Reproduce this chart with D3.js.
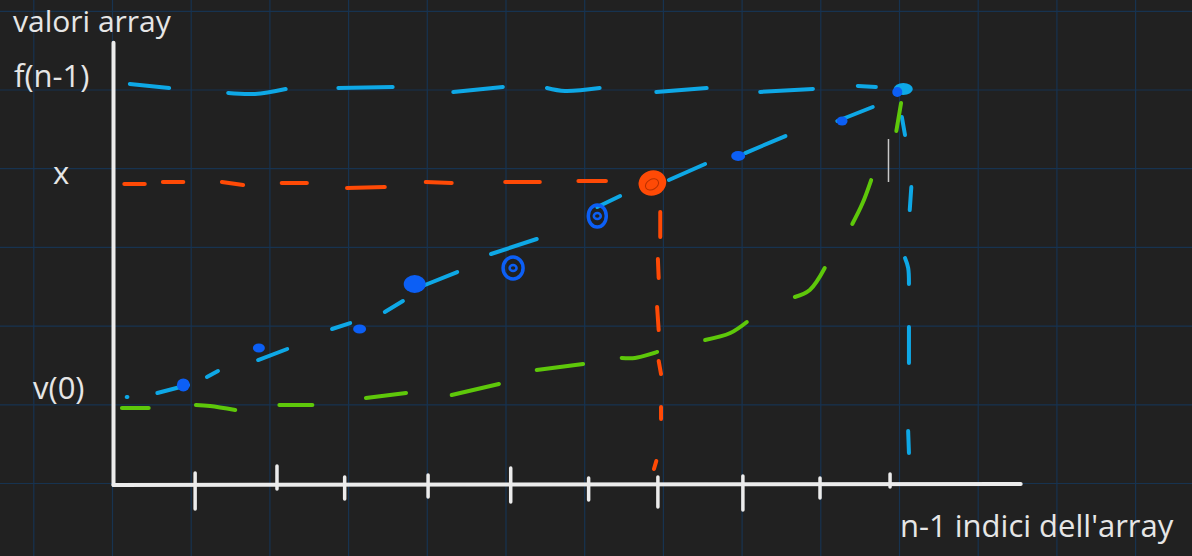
<!DOCTYPE html>
<html><head><meta charset="utf-8">
<script src="https://cdn.jsdelivr.net/npm/d3@7"></script>
<style>html,body{margin:0;background:#212121;}svg{display:block}</style>
</head><body>
<svg id="c" width="1192" height="556"></svg>
<script>
// ---------- DATA (index units on x, value units on y) ----------
const gridXIdx = d3.range(-1, 14);              // grid columns (array indices)
const gridYVal = [0, 10, 20, 30, 40, 50, 60];   // grid rows (values)
const tickIdx = [1.05, 2.09, 2.95, 4.01, 5.06, 6.05, 6.93, 8.01, 8.99, 9.88];
const yLabels = ["f(n-1)", "x", "v(0)"];
const yLabelVals = [50, 38.18, 10];
const yTitle = "valori array";
const xTitle = "n-1 indici dell'array";

// array elements (sorted values)
const arrayIdx = [0.90, 1.86, 3.14, 3.84, 5.09, 6.16, 7.95, 9.27, 10.01];
const arrayVal = [12.52, 17.22, 19.63, 25.35, 27.38, 33.99, 41.61, 46.06, 50.0];
// searched value x, found at interpolated index
const searchIdx = [6.86];
const searchVal = [38.18];

// dashed guide: f(n-1) level (horizontal)
const topLevelDashes = [
  [[0.22,50.76],[0.72,50.25]],
  [[1.47,49.62],[1.81,49.50],[2.20,50.13]],
  [[2.87,50.25],[3.56,50.38]],
  [[4.33,49.75],[4.96,50.38]],
  [[5.52,50.25],[5.75,49.87],[6.19,50.25]],
  [[6.91,49.75],[7.55,50.25]],
  [[8.23,49.75],[8.90,50.13]],
  [[9.47,50.51],[9.70,50.38]]
];
// dashed guide: n-1 index (vertical)
const lastIdxDashes = [
  [[10.03,46.57],[10.07,44.28]],
  [[10.15,37.67],[10.13,34.75]],
  [[10.07,28.65],[10.11,27.40],[10.12,25.35]],
  [[10.12,19.89],[10.12,15.31]],
  [[10.11,6.67],[10.12,3.88]]
];
// dashed guide: x level (horizontal)
const searchLevelDashes = [
  [[0.15,38.06],[0.41,38.06]],
  [[0.64,38.31],[0.90,38.31]],
  [[1.39,38.31],[1.66,37.93]],
  [[2.15,38.18],[2.47,38.18]],
  [[2.98,37.55],[3.46,37.67]],
  [[3.98,38.31],[4.31,38.18]],
  [[4.99,38.31],[5.43,38.31]],
  [[5.92,38.44],[6.27,38.44]]
];
// dashed guide: interpolated index (vertical)
const searchIdxDashes = [
  [[6.96,34.50],[6.96,31.32]],
  [[6.93,28.53],[6.94,26.11]],
  [[6.92,22.43],[6.94,19.50]],
  [[6.94,15.57],[6.97,13.91]],
  [[6.97,9.72],[6.97,8.20]],
  [[6.91,2.86],[6.88,1.84]]
];
// linear interpolation v(0) -> f(n-1)
const linearDashes = [
  [[0.18,10.99],[0.19,11.0]],
  [[0.57,11.50],[0.96,12.52]],
  [[1.20,13.53],[1.34,14.29]],
  [[1.85,15.69],[2.22,17.09]],
  [[2.79,19.63],[3.02,20.39]],
  [[3.46,21.79],[3.69,23.19]],
  [[3.97,25.22],[4.38,26.87]],
  [[4.81,29.16],[5.39,31.07]],
  [[6.16,35.13],[6.45,36.53]],
  [[7.07,38.56],[7.53,40.60]],
  [[8.04,41.99],[8.55,44.15]],
  [[9.21,46.06],[9.66,47.84]]
];
// non-linear (exponential-like) distribution
const curveDashes = [
  [[0.12,9.59],[0.46,9.59]],
  [[1.06,9.97],[1.24,9.85],[1.56,9.34]],
  [[2.12,9.97],[2.54,9.97]],
  [[3.22,10.86],[3.73,11.50]],
  [[4.31,11.25],[4.91,12.64]],
  [[5.39,14.42],[5.98,15.18]],
  [[6.47,15.95],[6.64,15.95],[6.92,16.71]],
  [[7.53,18.23],[7.85,19.12],[8.06,20.52]],
  [[8.67,23.70],[8.86,24.59],[9.05,27.38]],
  [[9.40,32.97],[9.53,35.60],[9.64,38.56]],
  [[9.96,44.79],[10.02,48.35]]
];
const cursorMark = [[9.86,43.77],[9.86,38.31]];

// ---------- STYLE ----------
const C = {bg:"#212121", grid:"#173350", axis:"#ececec", text:"#e6e6e6",
           lblue:"#0ea8e6", dblue:"#0c5ff5", orange:"#ff4a06", green:"#5ec80a"};
const dotR = [[6.5,6.5],[6,4.5],[6.5,4.5],[11,9],[10,11],[9,11],[7,5],[5.5,4.5],[5,5]];
const dotRing = [false,false,false,false,true,true,false,false,false];
const tickExt = [[12,24],[19,4],[8,14],[10,12],[17,17],[7,15],[8,22],[9,25],[7,13],[11,2]];
const yLabelPos = [[14,-3],[53,1],[33,-6]];

// ---------- SCALES ----------
const svg = d3.select("#c");
const W = 1192, H = 556;
const x = d3.scaleLinear().domain([0, 10]).range([112.5, 899.5]);
const y = d3.scaleLinear().domain([0, 50]).range([483.5, 90]);

svg.append("rect").attr("width", W).attr("height", H).attr("fill", C.bg);

// grid
const g = svg.append("g").attr("stroke", C.grid).attr("stroke-width", 1.2);
g.selectAll("line.vx").data(gridXIdx).join("line")
  .attr("x1", d => x(d)).attr("x2", d => x(d)).attr("y1", 0).attr("y2", H);
g.selectAll("line.hy").data(gridYVal).join("line")
  .attr("y1", d => y(d)).attr("y2", d => y(d)).attr("x1", 0).attr("x2", W);

// axes
const ax = svg.append("g").attr("stroke", C.axis).attr("stroke-linecap", "round").attr("fill", "none");
const axisY0 = y(0) + 1.5;
ax.append("line").attr("x1", x(0) + 1).attr("x2", x(0) + 1).attr("y1", y(56)).attr("y2", axisY0)
  .attr("stroke-width", 4);
ax.append("line").attr("x1", x(0) + 1).attr("x2", x(11.54)).attr("y1", axisY0).attr("y2", axisY0 - 1)
  .attr("stroke-width", 4);
ax.selectAll("line.tick").data(tickIdx).join("line")
  .attr("x1", d => x(d)).attr("x2", d => x(d))
  .attr("y1", (d, i) => axisY0 - tickExt[i][0]).attr("y2", (d, i) => axisY0 + tickExt[i][1])
  .attr("stroke-width", 3.5);

// dashed lines
const line = d3.line().x(d => x(d[0])).y(d => y(d[1])).curve(d3.curveCatmullRom);
function dashes(data, color) {
  svg.append("g").selectAll("path").data(data).join("path")
    .attr("d", line).attr("fill", "none").attr("stroke", color)
    .attr("stroke-width", 4).attr("stroke-linecap", "round");
}
dashes(topLevelDashes, C.lblue);
dashes(lastIdxDashes, C.lblue);
dashes(curveDashes, C.green);
dashes(searchLevelDashes, C.orange);
dashes(searchIdxDashes, C.orange);
dashes(linearDashes, C.lblue);

svg.append("path").attr("d", line(cursorMark)).attr("stroke", "#c8c8c8")
  .attr("stroke-width", 1.5).attr("fill", "none");

// array points
const pts = arrayIdx.map((d, i) => ({i: d, v: arrayVal[i], k: i}));
const last = pts.length - 1;
svg.append("ellipse").attr("cx", x(arrayIdx[last]) + 3).attr("cy", y(arrayVal[last]) - 1)
  .attr("rx", 9.5).attr("ry", 6).attr("fill", C.lblue);
svg.append("g").selectAll("ellipse").data(pts).join("ellipse")
  .attr("cx", d => x(d.i) - (d.k === last ? 3 : 0))
  .attr("cy", d => y(d.v) + (d.k === last ? 2 : 0))
  .attr("rx", d => dotR[d.k][0]).attr("ry", d => dotR[d.k][1])
  .attr("fill", d => dotRing[d.k] ? "none" : C.dblue)
  .attr("stroke", C.dblue)
  .attr("stroke-width", d => dotRing[d.k] ? 3.5 : 0);
// inner scribbles of the ring points
svg.append("g").selectAll("ellipse").data(pts.filter(d => dotRing[d.k])).join("ellipse")
  .attr("cx", d => x(d.i)).attr("cy", d => y(d.v))
  .attr("rx", 3.5).attr("ry", 3).attr("fill", "none").attr("stroke", C.dblue).attr("stroke-width", 2.5);

// searched value point
svg.append("g").selectAll("ellipse").data(searchIdx).join("ellipse")
  .attr("cx", d => x(d)).attr("cy", (d, i) => y(searchVal[i]))
  .attr("rx", 14).attr("ry", 12.5).attr("fill", C.orange)
  .attr("transform", (d, i) => `rotate(-20 ${x(d)} ${y(searchVal[i])})`);
svg.append("g").selectAll("ellipse").data(searchIdx).join("ellipse")
  .attr("cx", d => x(d) - 1).attr("cy", (d, i) => y(searchVal[i]) + 1)
  .attr("rx", 7).attr("ry", 5).attr("fill", "none").attr("stroke", "#b83000").attr("stroke-width", 1)
  .attr("transform", (d, i) => `rotate(-30 ${x(d)} ${y(searchVal[i])})`);

// texts
const font = "'Open Sans', 'Noto Sans', sans-serif";
svg.append("g").selectAll("text").data(yLabels).join("text")
  .attr("x", (d, i) => yLabelPos[i][0])
  .attr("y", (d, i) => y(yLabelVals[i]) + yLabelPos[i][1])
  .attr("font-family", font).attr("font-size", 31).attr("fill", C.text)
  .text(d => d);
svg.append("text").attr("x", 13).attr("y", 32).attr("font-family", font)
  .attr("font-size", 30).attr("fill", C.text).text(yTitle);
svg.append("text").attr("x", 900).attr("y", 537).attr("font-family", font)
  .attr("font-size", 31).attr("fill", C.text).text(xTitle);
</script>
</body></html>
